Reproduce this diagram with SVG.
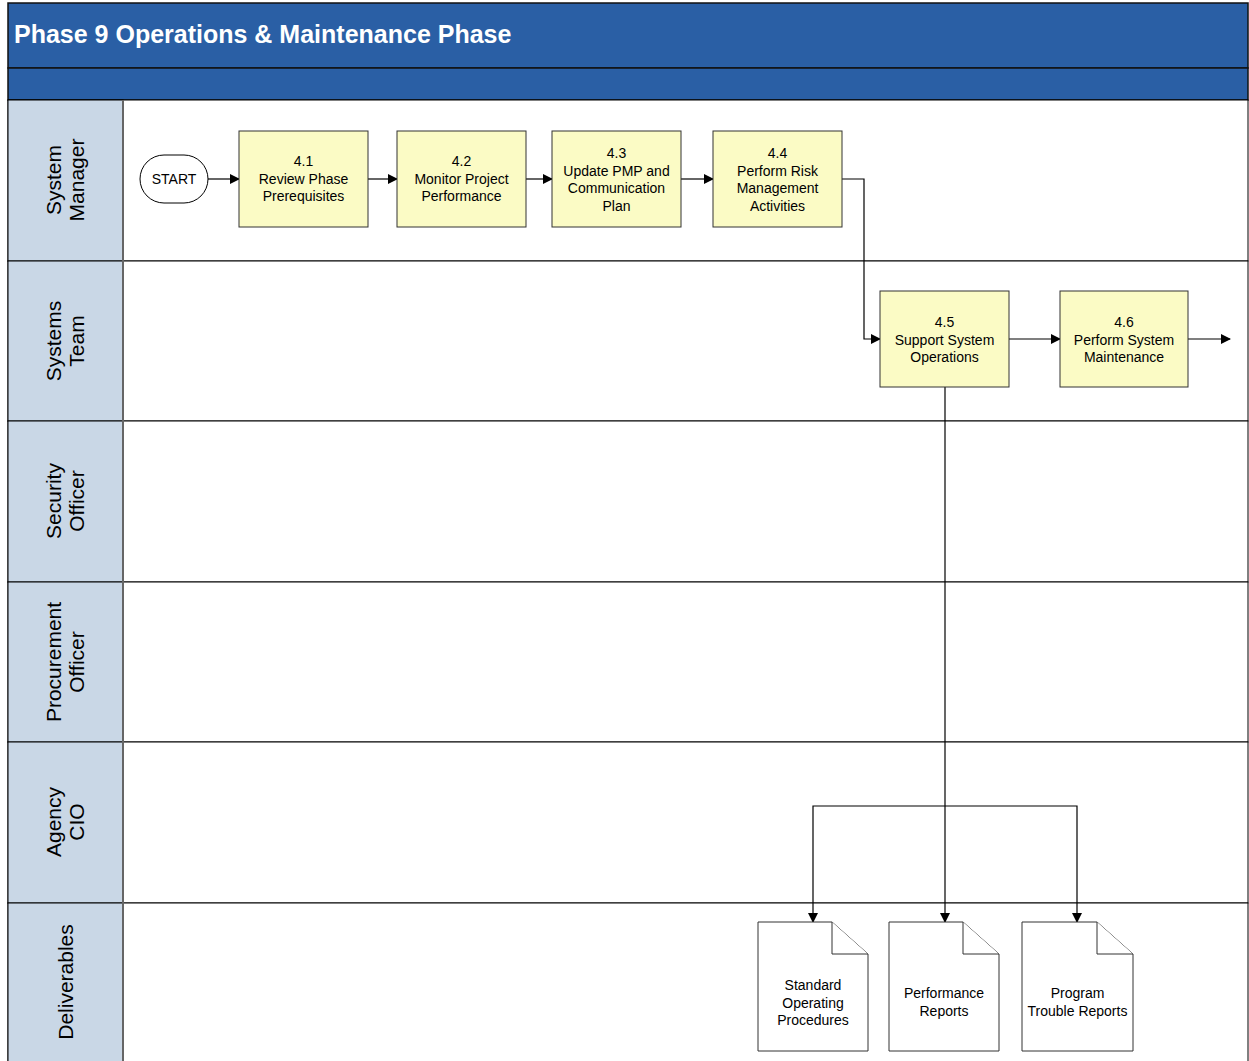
<svg xmlns="http://www.w3.org/2000/svg" width="1249" height="1061" viewBox="0 0 1249 1061">
<defs>
<style>
.lane{fill:#ffffff;stroke:#000;stroke-width:1}
.hdr{fill:#c9d7e6;stroke:#000;stroke-width:1}
.lbl{font-family:"Liberation Sans",Arial,sans-serif;font-size:21px;fill:#000;text-anchor:middle}
.box{fill:#fbfbc5;stroke:#333;stroke-width:1}
.t{font-family:"Liberation Sans",Arial,sans-serif;font-size:14px;fill:#000;text-anchor:middle}
.doc{fill:#fff;stroke:#333;stroke-width:1}
.c{fill:none;stroke:#000;stroke-width:1.2}
</style>
<marker id="ah" markerWidth="10" markerHeight="10" refX="9" refY="5" orient="auto" markerUnits="userSpaceOnUse">
<path d="M0,0 L10,5 L0,10 Z" fill="#000"/>
</marker>
</defs>
<rect x="0" y="0" width="1249" height="1061" fill="#fff"/>
<g id="title">
<rect x="8" y="3" width="1240" height="65" fill="#2a5fa5" stroke="#111" stroke-width="1.5"/>
<rect x="8" y="68" width="1240" height="32" fill="#2a5fa5" stroke="#111" stroke-width="1.5"/>
<text x="14" y="43" font-family="Liberation Sans,Arial,sans-serif" font-size="25" font-weight="bold" fill="#fff">Phase 9 Operations &amp; Maintenance Phase</text>
</g>
<g id="lanes">
<rect class="lane" x="8" y="100" width="1240" height="161"/>
<rect class="lane" x="8" y="261" width="1240" height="160"/>
<rect class="lane" x="8" y="421" width="1240" height="161"/>
<rect class="lane" x="8" y="582" width="1240" height="160"/>
<rect class="lane" x="8" y="742" width="1240" height="161"/>
<rect class="lane" x="8" y="903" width="1240" height="170"/>
<rect class="hdr" x="8" y="100" width="115" height="161"/>
<rect class="hdr" x="8" y="261" width="115" height="160"/>
<rect class="hdr" x="8" y="421" width="115" height="161"/>
<rect class="hdr" x="8" y="582" width="115" height="160"/>
<rect class="hdr" x="8" y="742" width="115" height="161"/>
<rect class="hdr" x="8" y="903" width="115" height="170"/>
<line x1="123" y1="100" x2="123" y2="1061" stroke="#666" stroke-width="2"/>
<text class="lbl" transform="translate(65,180) rotate(-90)"><tspan x="0" y="-4">System</tspan><tspan x="0" y="19">Manager</tspan></text>
<text class="lbl" transform="translate(65,341) rotate(-90)"><tspan x="0" y="-4">Systems</tspan><tspan x="0" y="19">Team</tspan></text>
<text class="lbl" transform="translate(65,501) rotate(-90)"><tspan x="0" y="-4">Security</tspan><tspan x="0" y="19">Officer</tspan></text>
<text class="lbl" transform="translate(65,662) rotate(-90)"><tspan x="0" y="-4">Procurement</tspan><tspan x="0" y="19">Officer</tspan></text>
<text class="lbl" transform="translate(65,822) rotate(-90)"><tspan x="0" y="-4">Agency</tspan><tspan x="0" y="19">CIO</tspan></text>
<text class="lbl" transform="translate(65,982) rotate(-90)"><tspan x="0" y="8">Deliverables</tspan></text>
</g>
<g id="connectors">
<line class="c" x1="208" y1="179" x2="239" y2="179" marker-end="url(#ah)"/>
<line class="c" x1="368" y1="179" x2="397" y2="179" marker-end="url(#ah)"/>
<line class="c" x1="526" y1="179" x2="552" y2="179" marker-end="url(#ah)"/>
<line class="c" x1="681" y1="179" x2="713" y2="179" marker-end="url(#ah)"/>
<polyline class="c" points="842,179 864,179 864,339 880,339" marker-end="url(#ah)"/>
<line class="c" x1="1009" y1="339" x2="1060" y2="339" marker-end="url(#ah)"/>
<line class="c" x1="1188" y1="339" x2="1230" y2="339" marker-end="url(#ah)"/>
<line class="c" x1="945" y1="387" x2="945" y2="922" stroke-width="2" marker-end="url(#ah)"/>
<polyline class="c" points="945,806 813,806 813,922" marker-end="url(#ah)"/>
<polyline class="c" points="945,806 1077,806 1077,922" marker-end="url(#ah)"/>
</g>
<g id="start">
<rect x="140" y="155" width="68" height="48" rx="24" ry="24" fill="#fff" stroke="#000"/>
<text class="t" x="174" y="184">START</text>
</g>
<g id="n41">
<rect class="box" x="239" y="131" width="129" height="96"/>
<text class="t" x="303.5" y="166">4.1</text><text class="t" x="303.5" y="183.5">Review Phase</text><text class="t" x="303.5" y="201">Prerequisites</text>
</g>
<g id="n42">
<rect class="box" x="397" y="131" width="129" height="96"/>
<text class="t" x="461.5" y="166">4.2</text><text class="t" x="461.5" y="183.5">Monitor Project</text><text class="t" x="461.5" y="201">Performance</text>
</g>
<g id="n43">
<rect class="box" x="552" y="131" width="129" height="96"/>
<text class="t" x="616.5" y="158">4.3</text><text class="t" x="616.5" y="175.5">Update PMP and</text><text class="t" x="616.5" y="193">Communication</text><text class="t" x="616.5" y="210.5">Plan</text>
</g>
<g id="n44">
<rect class="box" x="713" y="131" width="129" height="96"/>
<text class="t" x="777.5" y="158">4.4</text><text class="t" x="777.5" y="175.5">Perform Risk</text><text class="t" x="777.5" y="193">Management</text><text class="t" x="777.5" y="210.5">Activities</text>
</g>
<g id="n45">
<rect class="box" x="880" y="291" width="129" height="96"/>
<text class="t" x="944.5" y="327">4.5</text><text class="t" x="944.5" y="344.5">Support System</text><text class="t" x="944.5" y="362">Operations</text>
</g>
<g id="n46">
<rect class="box" x="1060" y="291" width="128" height="96"/>
<text class="t" x="1124" y="327">4.6</text><text class="t" x="1124" y="344.5">Perform System</text><text class="t" x="1124" y="362">Maintenance</text>
</g>
<g id="d1">
<path class="doc" d="M758,922 H832 L868,954 V1051 H758 Z"/>
<path class="doc" d="M832,922 V954 H868" fill="none"/>
<text class="t" x="813" y="990">Standard</text><text class="t" x="813" y="1007.5">Operating</text><text class="t" x="813" y="1025">Procedures</text>
</g>
<g id="d2">
<path class="doc" d="M889,922 H963 L999,954 V1051 H889 Z"/>
<path class="doc" d="M963,922 V954 H999" fill="none"/>
<text class="t" x="944" y="998">Performance</text><text class="t" x="944" y="1016">Reports</text>
</g>
<g id="d3">
<path class="doc" d="M1022,922 H1097 L1133,954 V1051 H1022 Z"/>
<path class="doc" d="M1097,922 V954 H1133" fill="none"/>
<text class="t" x="1077.5" y="998">Program</text><text class="t" x="1077.5" y="1016">Trouble Reports</text>
</g>
</svg>
